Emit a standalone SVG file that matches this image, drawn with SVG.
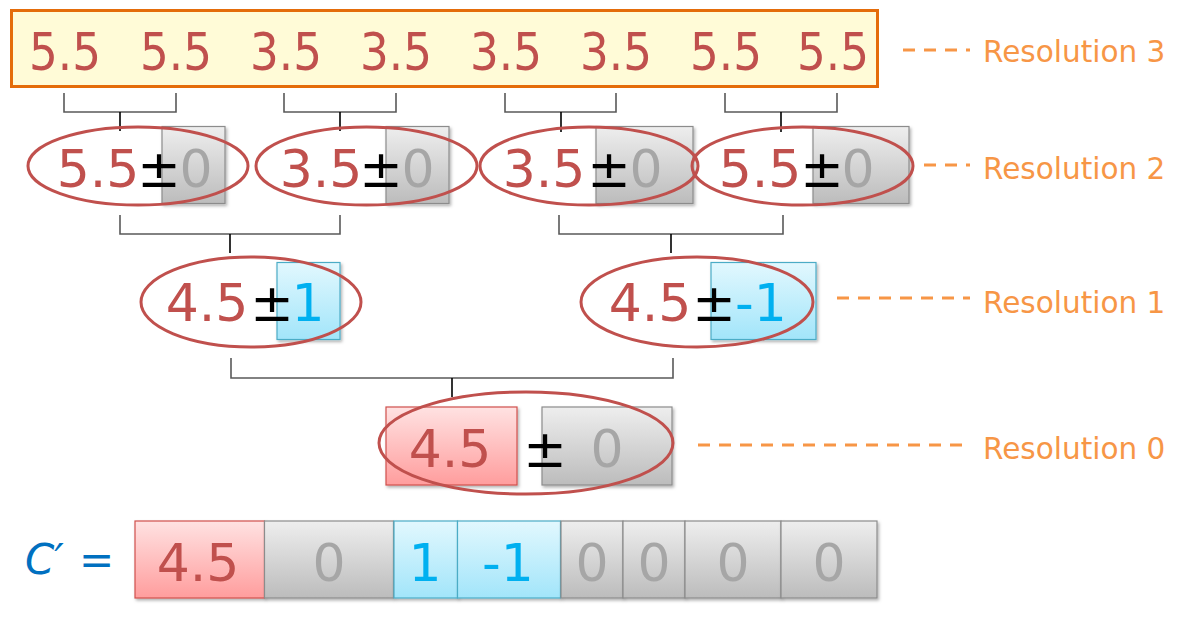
<svg xmlns="http://www.w3.org/2000/svg" width="1190" height="617" viewBox="0 0 1190 617">
<defs>
<linearGradient id="gGray" x1="0" y1="0" x2="0" y2="1"><stop offset="0" stop-color="#EEEEEE"/><stop offset="1" stop-color="#BCBCBC"/></linearGradient>
<linearGradient id="gBlue" x1="0" y1="0" x2="0" y2="1"><stop offset="0" stop-color="#E2F8FE"/><stop offset="1" stop-color="#A2E5FA"/></linearGradient>
<linearGradient id="gPink" x1="0" y1="0" x2="0" y2="1"><stop offset="0" stop-color="#FFE2E2"/><stop offset="1" stop-color="#FF9D9D"/></linearGradient>
<filter id="sh" x="-10%" y="-10%" width="130%" height="130%"><feDropShadow dx="1.5" dy="2" stdDeviation="1.5" flood-color="#000" flood-opacity="0.3"/></filter>
</defs>
<style>
text{font-family:"DejaVu Sans","Liberation Sans",sans-serif}
.v{font-size:52px;text-anchor:middle}
.num{font-size:52px;fill:#C0504D;text-anchor:middle}
.r{fill:#C0504D}
.k{fill:#000}
.z{fill:#A6A6A6}
.b{fill:#00B0F0}
.zero{font-size:52px;fill:#A6A6A6;text-anchor:middle}
.blu{font-size:52px;fill:#00B0F0;text-anchor:middle}
.gray{fill:url(#gGray);stroke:#8C8C8C;stroke-width:1.2;filter:url(#sh)}
.blue{fill:url(#gBlue);stroke:#4BACC6;stroke-width:1.2;filter:url(#sh)}
.pink{fill:url(#gPink);stroke:#D0504D;stroke-width:1.2;filter:url(#sh)}
.ell{fill:none;stroke:#C0504D;stroke-width:3}
.br{fill:none;stroke:#595959;stroke-width:1.6}
.stem{stroke:#000;stroke-width:1.6}
.dash{stroke:#F79646;stroke-width:3;stroke-dasharray:12 9}
.lab{font-size:29.5px;fill:#F79646}
</style>

<g id="connectors">
<path class="br" d="M64,93V112H176V93M284,93V112H396V93M505,93V112H616V93M725,93V112H837V93"/>
<path class="stem" d="M120,112V131M340,112V131M561,112V132M781,112V132"/>
<path class="br" d="M120,215V234H340V215M559,215V234H783V215"/>
<path class="stem" d="M230,234V253M671,234V253"/>
<path class="br" d="M231,358V378H673V358"/>
<path class="stem" d="M452,378V397"/>
</g>

<g id="res3">
<rect x="11.5" y="10.5" width="866" height="76" fill="#FFFBD7" stroke="#E46C0A" stroke-width="3"/>
<g class="num">
<text x="65" y="70" textLength="72" lengthAdjust="spacingAndGlyphs">5.5</text>
<text x="176" y="70" textLength="72" lengthAdjust="spacingAndGlyphs">5.5</text>
<text x="286" y="70" textLength="72" lengthAdjust="spacingAndGlyphs">3.5</text>
<text x="396" y="70" textLength="72" lengthAdjust="spacingAndGlyphs">3.5</text>
<text x="506" y="70" textLength="72" lengthAdjust="spacingAndGlyphs">3.5</text>
<text x="616" y="70" textLength="72" lengthAdjust="spacingAndGlyphs">3.5</text>
<text x="726" y="70" textLength="72" lengthAdjust="spacingAndGlyphs">5.5</text>
<text x="833" y="70" textLength="72" lengthAdjust="spacingAndGlyphs">5.5</text>
</g>
</g>

<g id="res2-a">
<rect class="gray" x="162" y="126.5" width="63" height="77"/>
<ellipse class="ell" cx="138" cy="166" rx="110" ry="39"/>
<text class="v" y="187"><tspan class="r" x="98">5.5</tspan><tspan class="k" x="159">±</tspan><tspan class="z" x="196">0</tspan></text>
</g>
<g id="res2-b">
<rect class="gray" x="386" y="126.5" width="63" height="77"/>
<ellipse class="ell" cx="366.5" cy="166" rx="110.5" ry="39"/>
<text class="v" y="187"><tspan class="r" x="321">3.5</tspan><tspan class="k" x="381">±</tspan><tspan class="z" x="418">0</tspan></text>
</g>
<g id="res2-c">
<rect class="gray" x="596" y="126.5" width="97" height="77"/>
<ellipse class="ell" cx="589" cy="166" rx="109" ry="39"/>
<text class="v" y="187"><tspan class="r" x="544">3.5</tspan><tspan class="k" x="609">±</tspan><tspan class="z" x="646">0</tspan></text>
</g>
<g id="res2-d">
<rect class="gray" x="813" y="126.5" width="96" height="77"/>
<ellipse class="ell" cx="802.5" cy="166" rx="110.5" ry="39"/>
<text class="v" y="187"><tspan class="r" x="760">5.5</tspan><tspan class="k" x="822">±</tspan><tspan class="z" x="858">0</tspan></text>
</g>

<g id="res1-a">
<rect class="blue" x="277" y="262.5" width="63" height="77"/>
<ellipse class="ell" cx="251" cy="302" rx="110" ry="45"/>
<text class="v" y="321"><tspan class="r" x="207">4.5</tspan><tspan class="k" x="272">±</tspan><tspan class="b" x="308">1</tspan></text>
</g>
<g id="res1-b">
<rect class="blue" x="711" y="262.5" width="105" height="77"/>
<ellipse class="ell" cx="697" cy="302" rx="116" ry="45"/>
<text class="v" y="321"><tspan class="r" x="650">4.5</tspan><tspan class="k" x="714">±</tspan><tspan class="b" x="761">-1</tspan></text>
</g>

<g id="res0">
<rect class="pink" x="386" y="407" width="131" height="78"/>
<rect class="gray" x="542" y="407" width="130" height="78"/>
<ellipse class="ell" cx="526" cy="443" rx="147" ry="51"/>
<text class="v" y="467"><tspan class="r" x="450">4.5</tspan><tspan class="k" x="545">±</tspan><tspan class="z" x="607">0</tspan></text>
</g>

<g id="labels">
<line class="dash" x1="903" y1="50" x2="970" y2="50"/>
<line class="dash" x1="924" y1="165" x2="970" y2="165"/>
<line class="dash" x1="837" y1="298" x2="970" y2="298"/>
<line class="dash" x1="698" y1="445" x2="970" y2="445"/>
<text class="lab" x="983" y="62">Resolution 3</text>
<text class="lab" x="983" y="179">Resolution 2</text>
<text class="lab" x="983" y="313">Resolution 1</text>
<text class="lab" x="983" y="459">Resolution 0</text>
</g>

<g id="cprime">
<text x="25" y="574" font-size="42" fill="#0070C0"><tspan font-style="italic">C′</tspan><tspan x="79">=</tspan></text>
<rect class="pink" x="135" y="521" width="129.5" height="77"/>
<rect class="gray" x="264.5" y="521" width="129" height="77"/>
<rect class="blue" x="394" y="521" width="63.5" height="77"/>
<rect class="blue" x="457.5" y="521" width="103" height="77"/>
<rect class="gray" x="561" y="521" width="62" height="77"/>
<rect class="gray" x="623" y="521" width="62" height="77"/>
<rect class="gray" x="685" y="521" width="96" height="77"/>
<rect class="gray" x="781" y="521" width="96" height="77"/>
<text class="num" x="198" y="581">4.5</text>
<text class="zero" x="329" y="581">0</text>
<text class="blu" x="425" y="581">1</text>
<text class="blu" x="508" y="581">-1</text>
<text class="zero" x="592" y="581">0</text>
<text class="zero" x="654" y="581">0</text>
<text class="zero" x="733" y="581">0</text>
<text class="zero" x="829" y="581">0</text>
</g>
</svg>
